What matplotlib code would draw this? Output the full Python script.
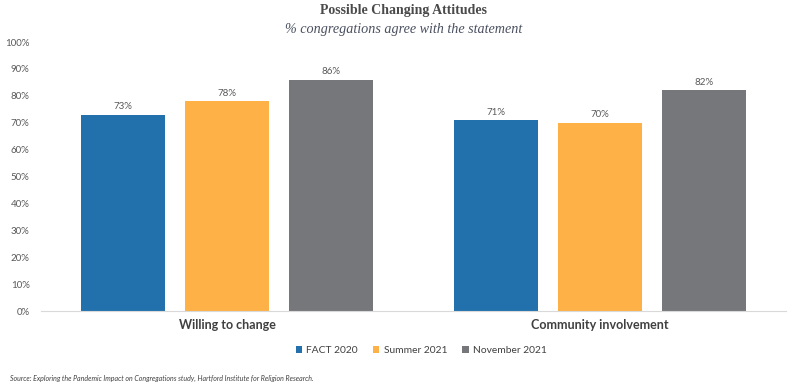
import matplotlib
matplotlib.use("Agg")
import matplotlib.pyplot as plt
import numpy as np

# data
categories = ["Willing to change", "Community involvement"]
series = ["FACT 2020", "Summer 2021", "November 2021"]
fact_2020 = [73, 71]
summer_2021 = [78, 70]
november_2021 = [86, 82]
y_ticks = [0, 10, 20, 30, 40, 50, 60, 70, 80, 90, 100]

colors = ["#2271AD", "#FDB147", "#75777A"]

plt.rcParams["font.family"] = ["Lato", "DejaVu Sans"]

fig = plt.figure(figsize=(8.07, 3.92), dpi=100)
ax = fig.add_axes([0.0505, 0.2066, 0.9234, 0.6862])

x = np.arange(len(categories))
width = 0.225
step = 0.279
for i, (name, vals) in enumerate(zip(series, [fact_2020, summer_2021, november_2021])):
    pos = x + (i - 1) * step
    bars = ax.bar(pos, vals, width=width, color=colors[i], label=name, zorder=2)
    for b, v in zip(bars, vals):
        ax.text(b.get_x() + b.get_width() / 2, v + 1.3, f"{v}%",
                ha="center", va="bottom", fontsize=7, color="#595959")

ax.set_xlim(-0.5, 1.5)
ax.set_ylim(0, 100)
ax.set_yticks(y_ticks)
ax.set_yticklabels([f"{t}%" for t in y_ticks], fontsize=7, color="#595959")
ax.set_xticks(x)
ax.set_xticklabels(categories, fontsize=9, fontweight="bold", color="#404040")
ax.tick_params(axis="both", length=0)
ax.tick_params(axis="y", pad=8)
ax.tick_params(axis="x", pad=6)
for side in ["top", "right", "left"]:
    ax.spines[side].set_visible(False)
ax.spines["bottom"].set_color("#D9D9D9")
ax.spines["bottom"].set_linewidth(0.8)

fig.text(0.5, 0.972, "Possible Changing Attitudes", ha="center", va="center",
         fontsize=10, fontweight="bold", color="#4A4A4A",
         family=["Liberation Serif", "DejaVu Serif"])
fig.text(0.5, 0.926, "% congregations agree with the statement", ha="center",
         va="center", fontsize=10.2, style="italic", color="#4A5060",
         family=["Liberation Serif", "DejaVu Serif"])

fig.legend(loc="center", bbox_to_anchor=(0.522, 0.105), ncol=3, frameon=False,
           fontsize=7.4, handlelength=0.6, handleheight=0.6, handletextpad=0.4,
           columnspacing=1.5, labelcolor="#404040")

fig.text(0.012, 0.035, "Source: Exploring the Pandemic Impact on Congregations study, "
         "Hartford Institute for Religion Research.", fontsize=5, style="italic",
         color="#404040", va="center")

fig.savefig("out.png", dpi=100)
